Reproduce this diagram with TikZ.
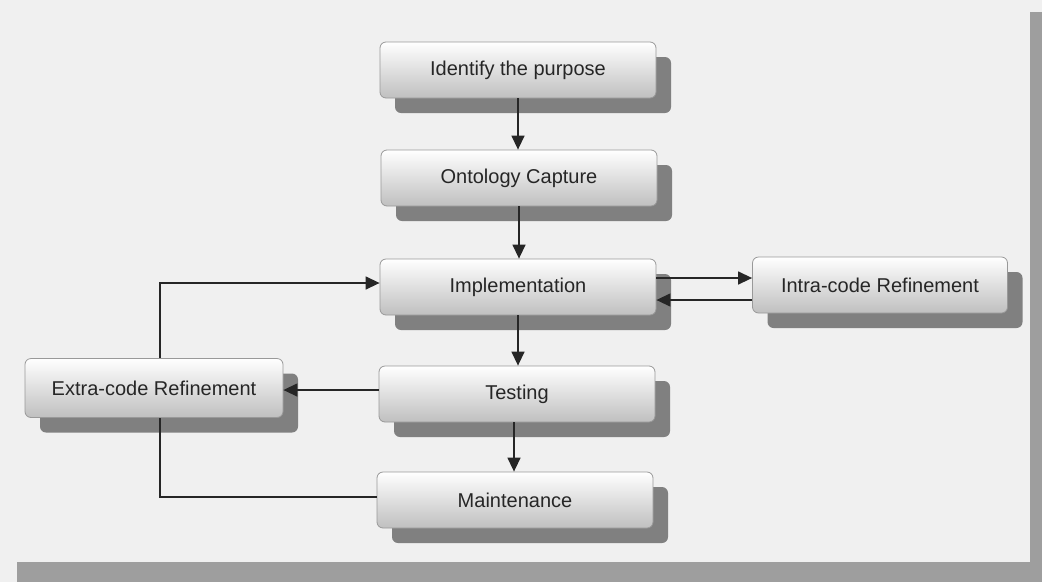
\documentclass[tikz,border=0pt]{standalone}
\usepackage{fontspec}
\setmainfont{Liberation Sans}
\usetikzlibrary{shadows,arrows.meta,calc}
\begin{document}
\begin{tikzpicture}[x=1pt,y=-1pt,
  stagebox/.style={rectangle, rounded corners=6pt, draw=black!40, line width=0.8pt,
    top color=white, bottom color=black!25, minimum width=276pt, minimum height=56pt,
    inner sep=0pt, text=black!85, font=\fontsize{20}{24}\selectfont,
    general shadow={fill=black!50, shadow xshift=15pt, shadow yshift=-15pt, rounded corners=4pt}},
  flow/.style={line width=1.4pt, black!85, -{Triangle[length=14pt,width=13pt]}},
  plain/.style={line width=1.4pt, black!85}]
\useasboundingbox (0,0) rectangle (1042,582);
\fill[black!6] (0,0) rectangle (1042,582);
\fill[black!38] (17,562) rectangle (1042,582);
\fill[black!38] (1030,12) rectangle (1042,582);
\node[stagebox] (id) at (518,70) {Identify the purpose};
\node[stagebox] (ont) at (519,178) {Ontology Capture};
\node[stagebox] (imp) at (518,287) {Implementation};
\node[stagebox, minimum width=255pt] (intra) at (880,285) {Intra-code Refinement};
\node[stagebox] (test) at (517,394) {Testing};
\node[stagebox, minimum width=258pt, minimum height=59pt] (extra) at (154,388) {Extra-code Refinement};
\node[stagebox] (maint) at (515,500) {Maintenance};
\coordinate (ya) at (0,278);
\coordinate (yb) at (0,300);
\coordinate (yc) at (0,390);
\coordinate (yd) at (0,497);
\coordinate (ye) at (0,283);
\coordinate (xl) at (160,0);
\coordinate (xm) at (514,0);
\coordinate (corner1) at (xl |- yd);
\coordinate (corner2) at (xl |- ye);
\draw[flow] (id.south) -- (id.south |- ont.north);
\draw[flow] (ont.south) -- (ont.south |- imp.north);
\draw[flow] (imp.south) -- (imp.south |- test.north);
\draw[flow] (test.south -| xm) -- (maint.north -| xm);
\draw[flow] (imp.east |- ya) -- (intra.west |- ya);
\draw[flow] (intra.west |- yb) -- (imp.east |- yb);
\draw[flow] (test.west |- yc) -- (extra.east |- yc);
\draw[plain] (maint.west |- yd) -- (corner1) -- (extra.south -| xl);
\draw[flow] (extra.north -| xl) -- (corner2) -- (imp.west |- ye);
\end{tikzpicture}
\end{document}
